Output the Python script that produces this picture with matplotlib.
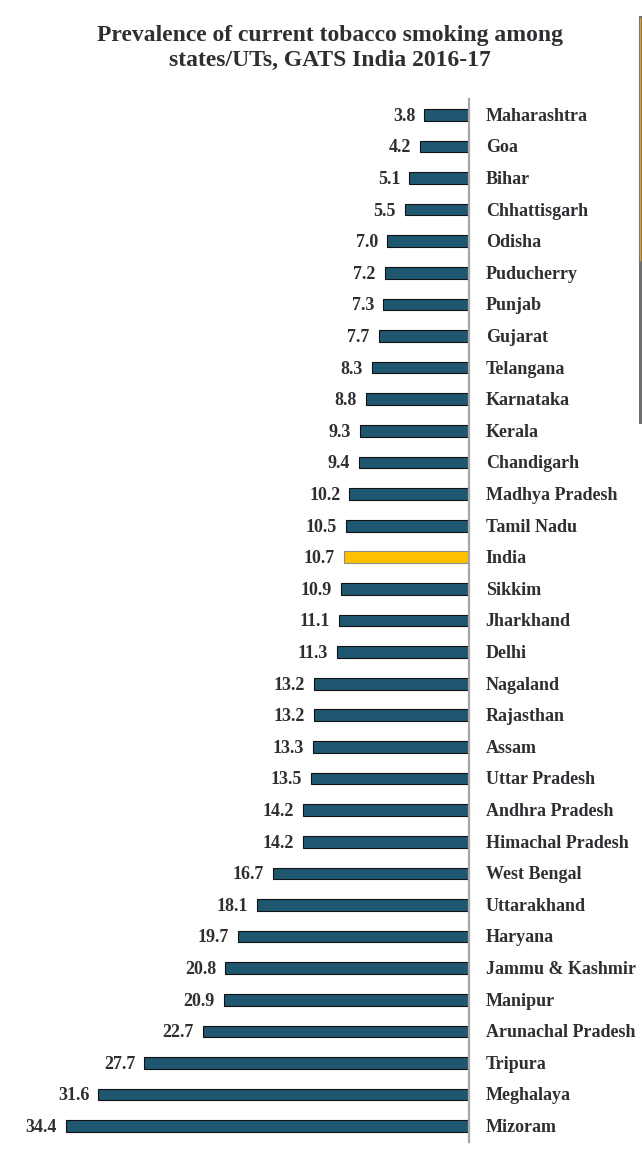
import matplotlib
matplotlib.use("Agg")
import matplotlib.pyplot as plt
from matplotlib.lines import Line2D

states = ["Maharashtra", "Goa", "Bihar", "Chhattisgarh", "Odisha", "Puducherry",
          "Punjab", "Gujarat", "Telangana", "Karnataka", "Kerala", "Chandigarh",
          "Madhya Pradesh", "Tamil Nadu", "India", "Sikkim", "Jharkhand", "Delhi",
          "Nagaland", "Rajasthan", "Assam", "Uttar Pradesh", "Andhra Pradesh",
          "Himachal Pradesh", "West Bengal", "Uttarakhand", "Haryana",
          "Jammu & Kashmir", "Manipur", "Arunachal Pradesh", "Tripura",
          "Meghalaya", "Mizoram"]
values = [3.8, 4.2, 5.1, 5.5, 7.0, 7.2, 7.3, 7.7, 8.3, 8.8, 9.3, 9.4, 10.2, 10.5,
          10.7, 10.9, 11.1, 11.3, 13.2, 13.2, 13.3, 13.5, 14.2, 14.2, 16.7, 18.1,
          19.7, 20.8, 20.9, 22.7, 27.7, 31.6, 34.4]
title = "Prevalence of current tobacco smoking among\nstates/UTs, GATS India 2016-17"

W, H = 642, 1160
fig = plt.figure(figsize=(W / 100, H / 100), dpi=100)
fig.patch.set_facecolor("white")

n = len(states)
top_px, bot_px = 99, 1142
ax = fig.add_axes([0, 1 - bot_px / H, 469 / W, (bot_px - top_px) / H])

serif = ["Liberation Serif", "DejaVu Serif"]
txt_color = "#2e2e33"
colors = ["#ffc000" if s == "India" else "#1f5670" for s in states]
edges = ["#8a8a8a" if s == "India" else "#111111" for s in states]
ypos = list(range(n))
ax.barh(ypos, values, height=0.37, color=colors, edgecolor=edges, linewidth=0.8)
ax.set_xlim(40, 0)
ax.set_ylim(n - 0.5, -0.5)

for y, v, s in zip(ypos, values, states):
    ax.annotate(f"{v:.1f}", xy=(v, y), xytext=(-6.5, -1), textcoords="offset points",
                ha="right", va="center", fontsize=13, fontweight="bold",
                family=serif, color=txt_color)
    ax.annotate(s, xy=(0, y), xytext=(12, -1), textcoords="offset points",
                ha="left", va="center", fontsize=13, fontweight="bold",
                family=serif, color=txt_color, annotation_clip=False)

for sp in ["top", "bottom", "left"]:
    ax.spines[sp].set_visible(False)
ax.spines["right"].set_color("#a6a6a6")
ax.spines["right"].set_linewidth(1.6)
ax.set_xticks([])
ax.set_yticks([])
ax.patch.set_alpha(0)

fig.text(330 / W, 1 - 48 / H, title, ha="center", va="center", fontsize=17,
         fontweight="bold", family=serif, color="#2e2e33", linespacing=1.25)

# decorative right-edge rule
fig.add_artist(Line2D([640 / W, 640 / W], [1 - 17 / H, 1 - 422 / H],
                      transform=fig.transFigure, color="#6f6f6f", linewidth=2.2))
fig.add_artist(Line2D([640 / W, 640 / W], [1 - 18 / H, 1 - 260 / H],
                      transform=fig.transFigure, color="#e3a020", linewidth=0.9))

fig.savefig("out.png", dpi=100, facecolor="white")
